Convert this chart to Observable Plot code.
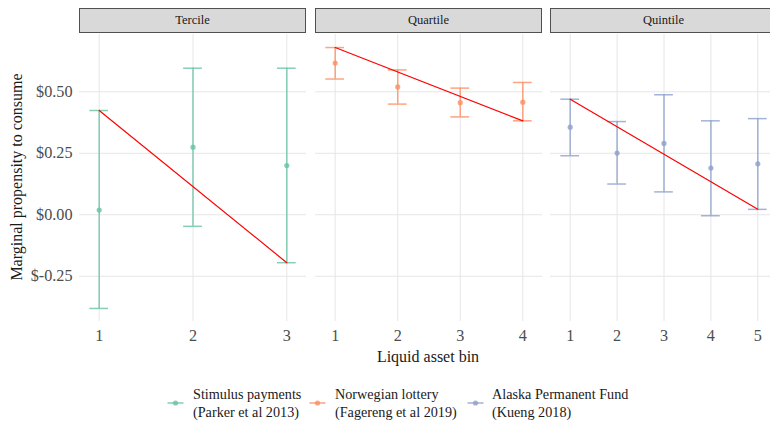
<!DOCTYPE html>
<html>
<head>
<meta charset="utf-8">
<script src="https://cdn.jsdelivr.net/npm/d3@7"></script>
<script src="https://cdn.jsdelivr.net/npm/@observablehq/plot@0.6"></script>
<style>
  body { margin: 0; background: #fff; }
  #chart { position: relative; width: 770px; height: 421px; overflow: hidden;
    font-family: "Liberation Serif", "Times New Roman", serif; background: #fff; }
  .panel { position: absolute; top: 0; }
  .panel svg { max-width: none !important; display: block; }
  .panel svg text { font-family: "Liberation Serif", "Times New Roman", serif !important; font-size: 16.2px !important; }
  .strip { position: absolute; top: 8px; height: 25px; box-sizing: border-box;
    background: #d9d9d9; border: 1px solid #505050; font-size: 12.5px; color: #1a1a1a;
    display: flex; align-items: center; justify-content: center; }
  .ytitle { position: absolute; left: 17px; top: 177px; transform: translate(-50%, -50%) rotate(-90deg);
    white-space: nowrap; font-size: 16px; color: #1a1a1a; }
  .xtitle { position: absolute; left: 428px; top: 357px; transform: translate(-50%, -50%);
    white-space: nowrap; font-size: 16px; color: #1a1a1a; }
  .lkey { position: absolute; top: 396px; }
  .ltext { position: absolute; top: 386px; font-size: 14.2px; line-height: 17.5px; color: #1a1a1a; white-space: nowrap; }
</style>
</head>
<body>
<div id="chart"></div>
<script>
// ---- data ----
const panelNames = ["Tercile", "Quartile", "Quintile"];
const seriesLabels = [
  ["Stimulus payments", "(Parker et al 2013)"],
  ["Norwegian lottery", "(Fagereng et al 2019)"],
  ["Alaska Permanent Fund", "(Kueng 2018)"]
];
const seriesColors = ["#66c2a5", "#fc8d62", "#8da0cb"];

const tercileBins = [1, 2, 3];
const tercileMpc  = [0.019, 0.275, 0.200];
const tercileLo   = [-0.381, -0.047, -0.195];
const tercileHi   = [0.424, 0.596, 0.596];

const quartileBins = [1, 2, 3, 4];
const quartileMpc  = [0.617, 0.520, 0.456, 0.458];
const quartileLo   = [0.552, 0.450, 0.398, 0.382];
const quartileHi   = [0.680, 0.589, 0.515, 0.538];

const quintileBins = [1, 2, 3, 4, 5];
const quintileMpc  = [0.356, 0.251, 0.290, 0.190, 0.207];
const quintileLo   = [0.240, 0.125, 0.093, -0.004, 0.022];
const quintileHi   = [0.470, 0.379, 0.488, 0.382, 0.391];

const yTicks = [-0.25, 0, 0.25, 0.5];

// ---- build ----
const panels = [
  {bins: tercileBins, mpc: tercileMpc, lo: tercileLo, hi: tercileHi},
  {bins: quartileBins, mpc: quartileMpc, lo: quartileLo, hi: quartileHi},
  {bins: quintileBins, mpc: quintileMpc, lo: quintileLo, hi: quintileHi}
];
const allLo = panels.flatMap(p => p.lo), allHi = panels.flatMap(p => p.hi);
const yMin = d3.min(allLo), yMax = d3.max(allHi), yPad = 0.05 * (yMax - yMin);
const yDomain = [yMin - yPad, yMax + yPad];

const layout = [
  {left: 0, width: 306, marginLeft: 79},
  {left: 315, width: 227, marginLeft: 0},
  {left: 550, width: 227, marginLeft: 0}
];
const chart = document.getElementById("chart");
const font = '"Liberation Serif", "Times New Roman", serif';
const grid = "#e6e6e6";

panels.forEach((p, i) => {
  const n = p.bins.length;
  const cap = 0.05 * (n - 1);
  const xPad = 0.105 * (n - 1);
  const rows = p.bins.map((b, j) => ({bin: b, mpc: p.mpc[j], lo: p.lo[j], hi: p.hi[j]}));
  const trend = [{bin: p.bins[0], v: p.hi[0]}, {bin: p.bins[n - 1], v: p.lo[n - 1]}];
  const color = seriesColors[i];
  const L = layout[i];
  const svg = Plot.plot({
    width: L.width, height: 345,
    marginLeft: L.marginLeft, marginRight: 0, marginTop: 34, marginBottom: 24,
    x: {domain: [1 - xPad, n + xPad]},
    y: {domain: yDomain, axis: i === 0 ? undefined : null},
    style: {fontFamily: font, fontSize: "16.2px", background: "transparent", overflow: "visible", maxWidth: "none"},
    marks: [
      Plot.gridY(yTicks, {stroke: grid, strokeOpacity: 1, strokeWidth: 1}),
      Plot.gridX(p.bins, {stroke: grid, strokeOpacity: 1, strokeWidth: 1}),
      Plot.ruleX(rows, {x: "bin", y1: "lo", y2: "hi", stroke: color, strokeOpacity: 0.8, strokeWidth: 1.5}),
      Plot.ruleY(rows, {y: "hi", x1: d => d.bin - cap, x2: d => d.bin + cap, stroke: color, strokeOpacity: 0.8, strokeWidth: 1.5}),
      Plot.ruleY(rows, {y: "lo", x1: d => d.bin - cap, x2: d => d.bin + cap, stroke: color, strokeOpacity: 0.8, strokeWidth: 1.5}),
      Plot.dot(rows, {x: "bin", y: "mpc", r: 2.6, fill: color, fillOpacity: 0.8, stroke: "none"}),
      Plot.line(trend, {x: "bin", y: "v", stroke: "red", strokeWidth: 1.2}),
      Plot.axisX(p.bins, {tickSize: 0, tickPadding: 8, tickFormat: d => String(d), fill: "#4d4d4d", label: null}),
      i === 0 ? Plot.axisY(yTicks, {tickSize: 0, tickPadding: 7, tickFormat: d => "$" + d.toFixed(2), fill: "#4d4d4d", label: null}) : null
    ]
  });
  const wrap = document.createElement("div");
  wrap.className = "panel";
  wrap.style.left = L.left + "px";
  wrap.style.width = L.width + "px";
  wrap.appendChild(svg);
  chart.appendChild(wrap);

  const strip = document.createElement("div");
  strip.className = "strip";
  const stripLeft = L.left + L.marginLeft;
  strip.style.left = stripLeft + "px";
  strip.style.width = (L.width - L.marginLeft) + "px";
  strip.textContent = panelNames[i];
  chart.appendChild(strip);
});

const yt = document.createElement("div");
yt.className = "ytitle"; yt.textContent = "Marginal propensity to consume";
chart.appendChild(yt);
const xt = document.createElement("div");
xt.className = "xtitle"; xt.textContent = "Liquid asset bin";
chart.appendChild(xt);

// legend
const keyX = [167, 309, 467];
const textX = [193, 335, 492];
seriesLabels.forEach((lab, i) => {
  const k = document.createElementNS("http://www.w3.org/2000/svg", "svg");
  k.setAttribute("class", "lkey");
  k.setAttribute("width", 17); k.setAttribute("height", 14);
  k.style.left = keyX[i] + "px";
  k.innerHTML = `<line x1="0.5" x2="16.5" y1="7" y2="7" stroke="${seriesColors[i]}" stroke-opacity="0.8" stroke-width="1.5"/>` +
    `<circle cx="8.5" cy="7" r="2.6" fill="${seriesColors[i]}" fill-opacity="0.8"/>`;
  chart.appendChild(k);
  const t = document.createElement("div");
  t.className = "ltext";
  t.style.left = textX[i] + "px";
  t.innerHTML = lab[0] + "<br>" + lab[1];
  chart.appendChild(t);
});
</script>
</body>
</html>
